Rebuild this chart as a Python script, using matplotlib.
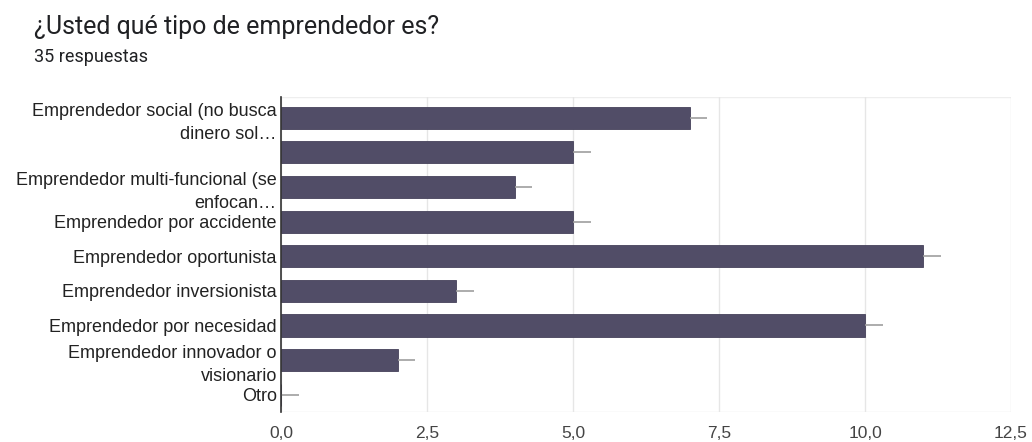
import matplotlib.pyplot as plt

categories = [
    "Emprendedor social (no busca\ndinero sol…",
    "",
    "Emprendedor multi-funcional (se\nenfocan…",
    "Emprendedor por accidente",
    "Emprendedor oportunista",
    "Emprendedor inversionista",
    "Emprendedor por necesidad",
    "Emprendedor innovador o\nvisionario",
    "Otro",
]
counts = [7, 5, 4, 5, 11, 3, 10, 2, 0]
err_right = [0.3, 0.3, 0.3, 0.3, 0.3, 0.3, 0.3, 0.3, 0.3]
xticks = [0, 2.5, 5, 7.5, 10, 12.5]
xtick_labels = ["0,0", "2,5", "5,0", "7,5", "10,0", "12,5"]

fig = plt.figure(figsize=(10.32, 4.42), dpi=100)
ax = fig.add_axes([281 / 1032, 30 / 442, 730 / 1032, 315 / 442])

y = list(range(len(categories)))
ax.barh(y, counts, height=0.64, color="#514d67", edgecolor="#45415a",
        linewidth=0.6, zorder=3)

# one-sided error whiskers, drawn right of each bar
ax.errorbar(counts, y, xerr=[[0] * len(counts), err_right], fmt="none",
            ecolor="#9e9e9e", elinewidth=1.2, capsize=0, zorder=4)

ax.set_xlim(0, 12.5)
ax.set_ylim(8.5, -0.6)
ax.set_xticks(xticks)
ax.set_xticklabels(xtick_labels, fontsize=12.5, family="Liberation Sans",
                   color="#444444")
ax.set_yticks(y)
ax.set_yticklabels(categories, fontsize=13, family="Liberation Sans",
                   color="#222222", linespacing=1.45)

ax.tick_params(axis="both", length=0)
ax.tick_params(axis="x", pad=10)
ax.tick_params(axis="y", pad=3)
ax.grid(axis="x", color="#e6e6e6", linewidth=1, zorder=0)
for side in ["top", "right", "bottom"]:
    ax.spines[side].set_visible(False)
ax.spines["left"].set_color("#333333")
ax.spines["left"].set_linewidth(1.2)
ax.spines["left"].set_zorder(5)
ax.axhline(8.5, color="#e6e6e6", linewidth=1, zorder=0)
ax.axhline(-0.6, color="#eeeeee", linewidth=1, zorder=0)

fig.text(34 / 1032, 1 - 27 / 442, "¿Usted qué tipo de emprendedor es?",
         fontsize=18, family="Roboto", color="#202124", va="center")
fig.text(34 / 1032, 1 - 57 / 442, "35 respuestas",
         fontsize=13, family="Roboto", color="#202124", va="center")

plt.savefig("out.png", dpi=100)
plt.close()
